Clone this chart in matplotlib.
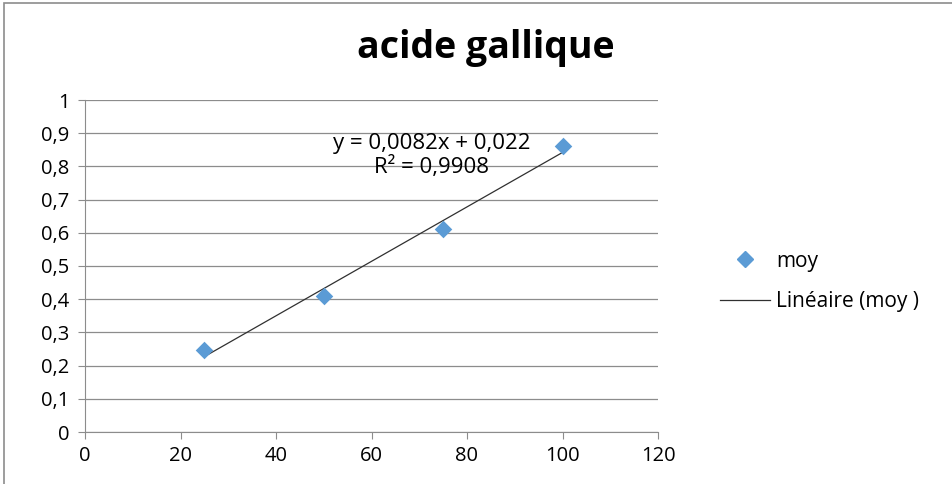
import matplotlib
matplotlib.use("Agg")
import matplotlib.pyplot as plt
from matplotlib.ticker import FuncFormatter
from matplotlib.lines import Line2D
import numpy as np

x_vals = [25, 50, 75, 100]
y_vals = [0.248, 0.41, 0.612, 0.861]
slope = 0.0082
intercept = 0.022
x_ticks = [0, 20, 40, 60, 80, 100, 120]
y_ticks = [0, 0.1, 0.2, 0.3, 0.4, 0.5, 0.6, 0.7, 0.8, 0.9, 1.0]
title = "acide gallique"
eq_text = "y = 0,0082x + 0,022\nR² = 0,9908"

plt.rcParams['font.family'] = ['Open Sans', 'DejaVu Sans']

fig = plt.figure(figsize=(9.53, 4.84), dpi=100)
# outer frame
fig.patches.append(plt.Rectangle((4/953, -0.01), 1.1, (484-3)/484 + 0.01, transform=fig.transFigure,
                                 fill=False, edgecolor='#8c8c8c', linewidth=1.2))

ax = fig.add_axes([85/953, 52/484, 573/953, 332/484])
ax.set_xlim(0, 120)
ax.set_ylim(0, 1)
ax.set_xticks(x_ticks)
ax.set_yticks(y_ticks)
fmt = FuncFormatter(lambda v, p: ('%g' % round(v, 1)).replace('.', ','))
ax.xaxis.set_major_formatter(fmt)
ax.yaxis.set_major_formatter(fmt)
ax.grid(axis='y', color='#8c8c8c', linewidth=0.9)
ax.set_axisbelow(True)
for s in ['top', 'right']:
    ax.spines[s].set_visible(False)
for s in ['left', 'bottom']:
    ax.spines[s].set_color('#8c8c8c')
ax.tick_params(axis='both', colors='#8c8c8c', labelcolor='black', labelsize=14.5, length=5, direction='out')
ax.tick_params(axis='x', pad=5)
ax.tick_params(axis='y', pad=6)

xs = np.array([min(x_vals), max(x_vals)])
ax.plot(xs, slope * xs + intercept, color='#303030', linewidth=0.9, zorder=2)
ax.scatter(x_vals, y_vals, marker='D', s=80, color='#5b9bd5', zorder=3, linewidths=0)

ax.text(72.6, 0.833, eq_text, ha='center', va='center', fontsize=16, linespacing=1.1)

fig.text(486 / 953, (484 - 48) / 484, title, ha='center', va='center',
         fontsize=27, fontweight='bold')

handles = [Line2D([], [], marker='D', linestyle='None', color='#5b9bd5', markersize=8.5),
           Line2D([], [], color='#303030', linewidth=0.9)]
fig.legend(handles, ['moy', 'Linéaire (moy )'], loc='center left',
           bbox_to_anchor=(701/953, 202.5/484), frameon=False, fontsize=15,
           handlelength=2.4, handletextpad=0.3, labelspacing=0.95)

fig.savefig('out.png', dpi=100)
